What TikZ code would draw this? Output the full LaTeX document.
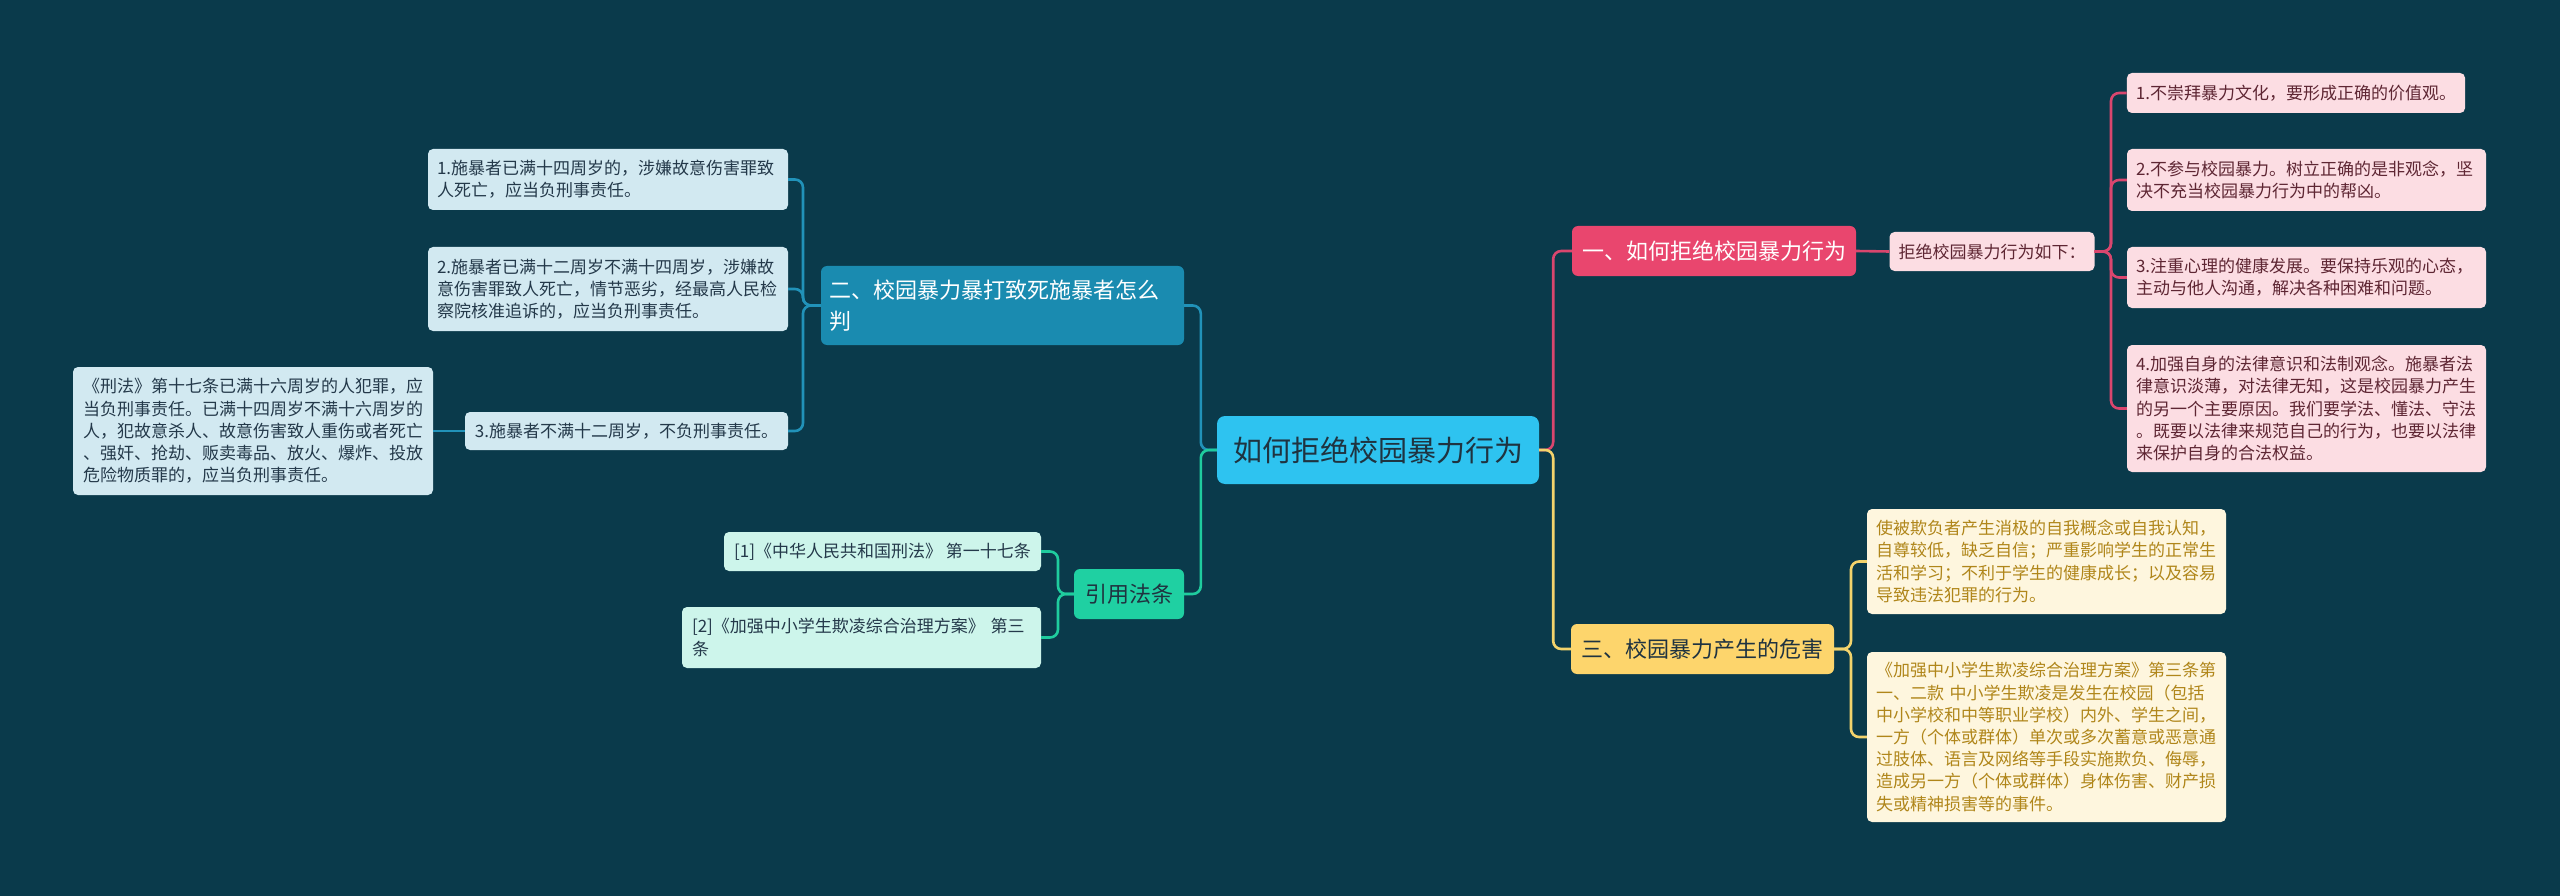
\documentclass[tikz,border=0pt]{standalone}
\usepackage{fontspec}
\setmainfont{Noto Sans CJK SC}
\definecolor{bg}{HTML}{0A3A4B}
\definecolor{rootc}{HTML}{2EC3F0}
\definecolor{darktext}{HTML}{1F3340}
\definecolor{pinkc}{HTML}{E9466E}
\definecolor{pinkl}{HTML}{FCDDE3}
\definecolor{pinkt}{HTML}{5E2633}
\definecolor{pinkline}{HTML}{D9466E}
\definecolor{bluec}{HTML}{1A8BB0}
\definecolor{bluel}{HTML}{D2E9F1}
\definecolor{bluet}{HTML}{24394A}
\definecolor{blueline}{HTML}{2192B9}
\definecolor{greenc}{HTML}{1FD0A2}
\definecolor{greenl}{HTML}{CDF5EB}
\definecolor{greenline}{HTML}{1FCC9E}
\definecolor{yellowc}{HTML}{FDD56C}
\definecolor{yellowl}{HTML}{FEF6DE}
\definecolor{yellowt}{HTML}{B0861A}
\definecolor{yellowline}{HTML}{F3D36C}
\tikzset{
  box/.style={rounded corners=5pt, inner xsep=9pt, inner ysep=0pt,
    font=\fontsize{17}{22.2}\selectfont},
  multi/.style={align=left},
  rootbox/.style={rounded corners=8pt, fill=rootc, text=darktext, inner xsep=0pt,
    font=\fontsize{29}{34}\selectfont},
  brbox/.style={rounded corners=6pt, inner xsep=9pt, inner ysep=0pt,
    font=\fontsize{22}{31}\selectfont},
  pinkbox/.style={box, fill=pinkl, text=pinkt},
  bluebox/.style={box, fill=bluel, text=bluet},
  greenbox/.style={box, fill=greenl, text=bluet},
  yellowbox/.style={box, fill=yellowl, text=yellowt},
  conn/.style={line width=2.6pt, rounded corners=8pt},
}
\begin{document}
\begin{tikzpicture}[x=1pt,y=-1pt]
\fill[bg] (0,0) rectangle (2560,896);
\useasboundingbox (0,0) rectangle (2560,896);

% root
\node[rootbox, minimum width=322pt, minimum height=68pt] (root) at (1378,450) {如何拒绝校园暴力行为};

% branch 1 (pink)
\node[brbox, fill=pinkc, text=white, minimum width=284pt, minimum height=50pt] (b1) at (1714,251) {一、如何拒绝校园暴力行为};
\node[pinkbox, minimum width=204pt, minimum height=39pt] (rule) at (1992,251.5) {拒绝校园暴力行为如下：};
\node[pinkbox, minimum width=338pt, minimum height=40pt] (p1) at (2296,93) {1.不崇拜暴力文化，要形成正确的价值观。};
\node[pinkbox, multi, text width=341pt, minimum height=62pt] (p2) at (2306.5,180) {2.不参与校园暴力。树立正确的是非观念，坚\\决不充当校园暴力行为中的帮凶。};
\node[pinkbox, multi, text width=341pt, minimum height=61pt] (p3) at (2306.5,277.5) {3.注重心理的健康发展。要保持乐观的心态，\\主动与他人沟通，解决各种困难和问题。};
\node[pinkbox, multi, text width=341pt, minimum height=127pt] (p4) at (2306.5,408.5) {4.加强自身的法律意识和法制观念。施暴者法\\律意识淡薄，对法律无知，这是校园暴力产生\\的另一个主要原因。我们要学法、懂法、守法\\。既要以法律来规范自己的行为，也要以法律\\来保护自身的合法权益。};

% branch 3 (yellow)
\node[brbox, fill=yellowc, text=darktext, minimum width=263pt, minimum height=50pt] (b3) at (1702.5,649) {三、校园暴力产生的危害};
\node[yellowbox, multi, text width=341pt, minimum height=105pt] (ya) at (2046.5,561.5) {使被欺负者产生消极的自我概念或自我认知，\\自尊较低，缺乏自信；严重影响学生的正常生\\活和学习；不利于学生的健康成长；以及容易\\导致违法犯罪的行为。};
\node[yellowbox, multi, text width=341pt, minimum height=170pt] (yb) at (2046.5,737) {《加强中小学生欺凌综合治理方案》第三条第\\一、二款 中小学生欺凌是发生在校园（包括\\中小学校和中等职业学校）内外、学生之间，\\一方（个体或群体）单次或多次蓄意或恶意通\\过肢体、语言及网络等手段实施欺负、侮辱，\\造成另一方（个体或群体）身体伤害、财产损\\失或精神损害等的事件。};

% branch 2 (blue)
\node[brbox, fill=bluec, text=white, multi, inner xsep=8pt, text width=347pt, minimum height=79pt] (b2) at (1002.5,305.5) {二、校园暴力暴打致死施暴者怎么\\判};
\node[bluebox, multi, text width=342pt, minimum height=61pt] (l1) at (608,179.5) {1.施暴者已满十四周岁的，涉嫌故意伤害罪致\\人死亡，应当负刑事责任。};
\node[bluebox, multi, text width=342pt, minimum height=84pt] (l2) at (608,289) {2.施暴者已满十二周岁不满十四周岁，涉嫌故\\意伤害罪致人死亡，情节恶劣，经最高人民检\\察院核准追诉的，应当负刑事责任。};
\node[bluebox, minimum width=323pt, minimum height=38pt] (l3) at (626.5,431) {3.施暴者不满十二周岁，不负刑事责任。};
\node[bluebox, multi, inner xsep=10pt, text width=340pt, minimum height=128pt] (xf) at (253,431) {《刑法》第十七条已满十六周岁的人犯罪，应\\当负刑事责任。已满十四周岁不满十六周岁的\\人，犯故意杀人、故意伤害致人重伤或者死亡\\、强奸、抢劫、贩卖毒品、放火、爆炸、投放\\危险物质罪的，应当负刑事责任。};

% branch (green)
\node[brbox, fill=greenc, text=darktext, minimum width=110pt, minimum height=50pt] (bg) at (1129,594) {引用法条};
\node[greenbox, minimum width=317pt, minimum height=39pt] (c1) at (882.5,551.5) {[1]《中华人民共和国刑法》 第一十七条};
\node[greenbox, multi, inner xsep=10pt, text width=339pt, minimum height=61pt] (c2) at (861.5,637.5) {[2]《加强中小学生欺凌综合治理方案》 第三\\条};

% connectors right
\draw[conn, pinkline] (root.east) -- ++(14,0) |- (b1.west);
\draw[conn, yellowline] (root.east) -- ++(14,0) |- (b3.west);
\draw[conn, pinkline] (b1.east) -- (rule.west);
\coordinate (pv) at (2111,251.5);
\foreach \n in {p1,p2,p3,p4} \draw[conn, pinkline] (rule.east) -- (pv) |- (\n.west);
\coordinate (yv) at (1851,649);
\foreach \n in {ya,yb} \draw[conn, yellowline] (b3.east) -- (yv) |- (\n.west);

% connectors left
\draw[conn, blueline] (root.west) -- ++(-16,0) |- (b2.east);
\draw[conn, greenline] (root.west) -- ++(-16,0) |- (bg.east);
\coordinate (bv) at (803,305.5);
\foreach \n in {l1,l2,l3} \draw[conn, blueline] (b2.west) -- (bv) |- (\n.east);
\draw[conn, blueline] (l3.west) -- (xf.east);
\coordinate (gv) at (1058,594);
\foreach \n in {c1,c2} \draw[conn, greenline] (bg.west) -- (gv) |- (\n.east);
\end{tikzpicture}
\end{document}
